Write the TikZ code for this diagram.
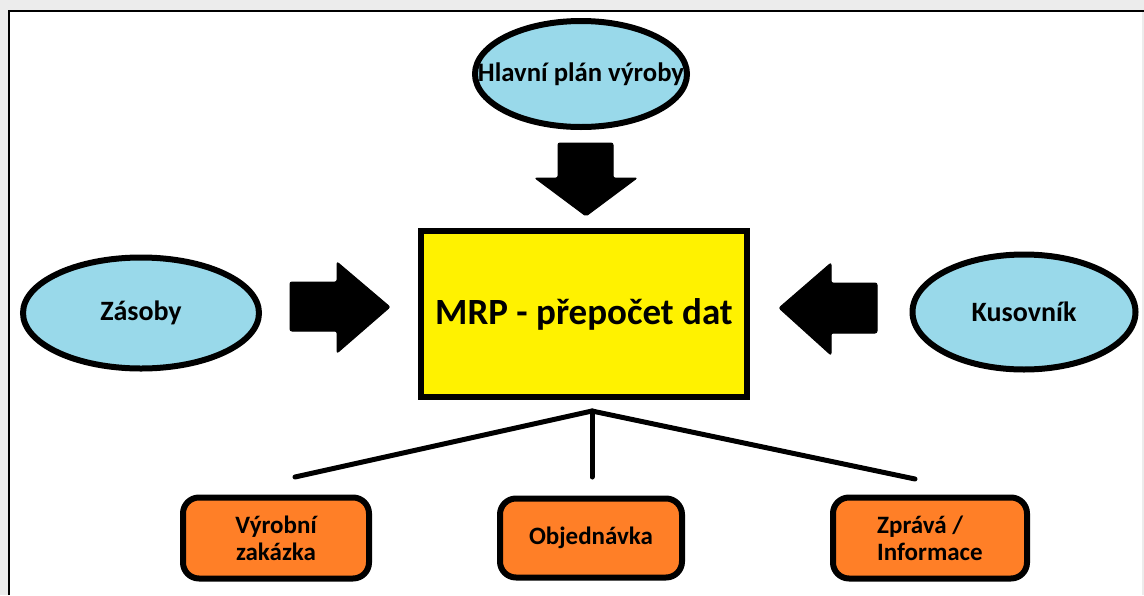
\documentclass[tikz,border=0pt]{standalone}
\usepackage{fontspec}
\setmainfont{Carlito}
\usetikzlibrary{shapes.geometric}
\definecolor{bgray}{HTML}{ECECEC}
\definecolor{lblue}{HTML}{99D9EA}
\definecolor{pyellow}{HTML}{FFF200}
\definecolor{porange}{HTML}{FF7F27}
\tikzset{
  oval/.style={ellipse,draw=black,line width=6pt,fill=lblue,inner sep=0pt,font=\bfseries\fontsize{28}{31}\selectfont},
  outbox/.style={rectangle,rounded corners=16pt,draw=black,line width=6pt,fill=porange,inner sep=0pt,font=\bfseries\fontsize{25}{27}\selectfont},
  blockarrow/.style={fill=black,draw=black,line width=1pt,rounded corners=2pt},
  link/.style={line width=5pt,line cap=round}
}
\begin{document}
\begin{tikzpicture}[x=1pt,y=-1pt]
\useasboundingbox (0,0) rectangle (1144,595);
\fill[bgray] (0,0) rectangle (1144,595);
\fill[white] (8,10) rectangle (1142,595);
\draw[line width=2pt] (9,595) -- (9,11) -- (1144,11);
% nodes
\node[oval,minimum width=212pt,minimum height=106pt,label={[font=\bfseries\fontsize{26.7}{30}\selectfont,inner sep=0pt]center:Hlavní plán výroby}] (hpv) at (581,74) {};
\node[oval,minimum width=236pt,minimum height=111pt] (zas) at (141,313) {Zásoby};
\node[oval,minimum width=223pt,minimum height=115pt] (kus) at (1024,312) {Kusovník};
\node[rectangle,draw=black,line width=6pt,fill=pyellow,minimum width=326pt,minimum height=166pt,inner sep=0pt,font=\bfseries\fontsize{37}{42}\selectfont] (mrp) at (584,314) {MRP - přepočet dat};
\node[outbox,minimum width=186pt,minimum height=81pt,align=center] (vz) at (276,538) {Výrobní\\zakázka};
\node[outbox,minimum width=182pt,minimum height=79pt] (obj) at (591,538) {Objednávka};
\node[outbox,minimum width=194pt,minimum height=81pt,align=left] (zpr) at (930,538) {Zprává /\\Informace};
% block arrows
\draw[blockarrow] (558,143) -- (613,143) -- (613,178) -- (637,178) -- (586,216) -- (535,178) -- (558,178) -- cycle;
\draw[blockarrow] (290,282) -- (337,282) -- (337,262) -- (390,307) -- (337,353) -- (337,331) -- (290,331) -- cycle;
\draw[blockarrow] (877,283) -- (831,283) -- (831,263) -- (779,308) -- (831,355) -- (831,333) -- (877,333) -- cycle;
% connectors
\coordinate (apex) at (592,411);
\coordinate (lend) at (295,477);
\coordinate (mend) at (592,477);
\coordinate (rend) at (915,479);
\draw[link] (apex) -- (lend);
\draw[link] (apex) -- (mend);
\draw[link] (apex) -- (rend);
\end{tikzpicture}
\end{document}
